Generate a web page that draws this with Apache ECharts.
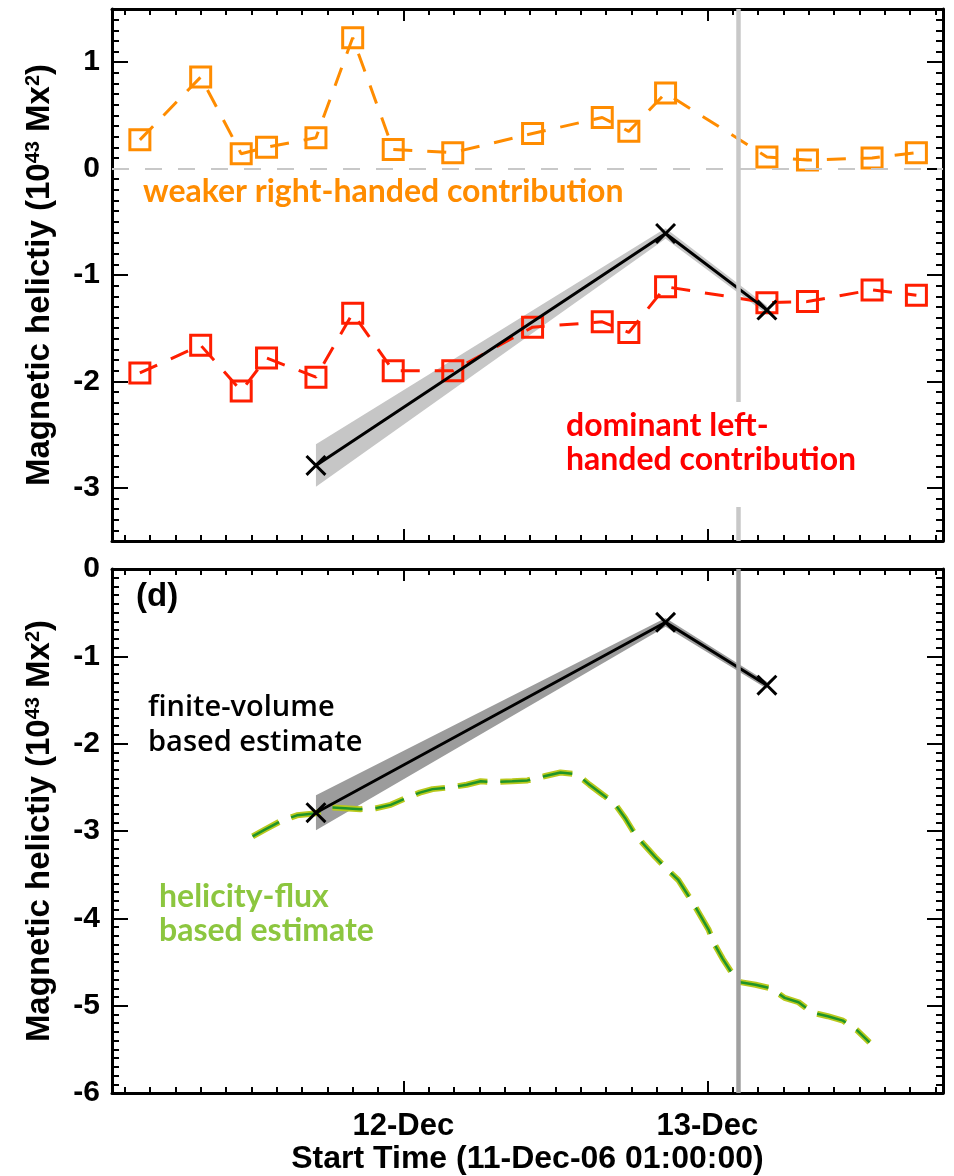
<!DOCTYPE html>
<html>
<head>
<meta charset="utf-8">
<script src="https://cdn.jsdelivr.net/npm/echarts@6/dist/echarts.min.js"></script>
<style>
  html, body { margin: 0; padding: 0; background: #fff; }
  #chart { width: 954px; height: 1176px; }
</style>
</head>
<body>
<div id="chart"></div>
<script>
// Time axis in hours since 11-Dec-2006 00:00 UT
const startHour = 1;          // 11-Dec-06 01:00:00
const endHour = 66.6;
const dayTickHours = [24, 48];
const dayTickLabels = ['12-Dec', '13-Dec'];
const flareHour = 50.4;

// Tick values of the helicity axes (10^43 Mx^2)
const topTicks = [-3, -2, -1, 0, 1];
const bottomTicks = [-6, -5, -4, -3, -2, -1, 0];

// Right- and left-handed contributions
const contribHours = [3.2, 8.0, 11.2, 13.2, 17.1, 20.0, 23.2, 27.9, 34.2, 39.7, 41.8, 44.7, 52.7, 55.9, 61.0, 64.5];
const rightHanded = [0.27, 0.86, 0.14, 0.20, 0.29, 1.23, 0.18, 0.15, 0.33, 0.48, 0.35, 0.71, 0.11, 0.08, 0.10, 0.15];
const leftHanded = [-1.92, -1.66, -2.09, -1.78, -1.96, -1.36, -1.90, -1.90, -1.49, -1.44, -1.54, -1.11, -1.26, -1.25, -1.14, -1.19];

// Finite-volume estimate and its uncertainty
const fvHours = [17.1, 44.7, 52.7];
const fvValues = [-2.79, -0.61, -1.33];
const fvErrors = [0.20, 0.05, 0.04];

// Helicity-flux based (accumulated) estimate
const fluxHours = [12.1, 13.1, 14.4, 15.6, 17.0, 18.2, 19.4, 20.6, 21.8, 23.0, 24.1, 25.3, 26.3, 27.7, 29.0,
  30.1, 31.2, 32.6, 33.8, 35.2, 36.4, 37.7, 38.7, 39.8, 40.7, 41.5, 42.3, 42.9, 43.9, 44.9,
  45.7, 46.9, 48.1, 48.5, 49.2, 50.0, 50.6, 51.8, 53.0, 54.1, 55.2, 56.3, 57.5, 58.7, 59.8, 60.8];
const fluxValues = [-3.06, -2.98, -2.88, -2.82, -2.80, -2.73, -2.74, -2.75, -2.74, -2.70, -2.63, -2.56, -2.52, -2.50, -2.47,
  -2.43, -2.44, -2.43, -2.42, -2.37, -2.33, -2.35, -2.47, -2.59, -2.69, -2.85, -3.04, -3.14, -3.30, -3.45,
  -3.56, -3.83, -4.13, -4.28, -4.46, -4.64, -4.73, -4.76, -4.80, -4.91, -4.96, -5.08, -5.12, -5.17, -5.28, -5.42];

const ORANGE = '#ff8c00';
const RED = '#ff1e00';
const FONT = 'Liberation Sans';
const CROSS = 'path://M0,2L2,0L10,8L18,0L20,2L12,10L20,18L18,20L10,12L2,20L0,18L8,10Z';

function steps(a, b, step) {
  const out = [];
  for (let v = a; v <= b + 1e-9; v += step) out.push(+v.toFixed(2));
  return out;
}

const tickLine = { color: '#000', width: 2 };
const labelFont = { fontFamily: FONT, fontSize: 30, fontWeight: 'bold', color: '#000' };

function xAxes(grid, withLabels) {
  const base = { gridIndex: grid, type: 'value', min: startHour, max: endHour,
    splitLine: { show: false }, axisLabel: { show: false } };
  const minor = steps(2, 66, 2);
  const major = Object.assign({}, base, {
    axisLine: { show: false, onZero: false },
    axisTick: { show: true, inside: true, length: 12, customValues: dayTickHours, lineStyle: tickLine }
  });
  const minorAx = Object.assign({}, base, {
    axisLine: { show: true, onZero: false, lineStyle: { color: '#000', width: 3 } },
    axisTick: { show: true, inside: true, length: 6, customValues: minor, lineStyle: tickLine }
  });
  const bottomMajor = Object.assign({}, major, { position: 'bottom' });
  if (withLabels) {
    bottomMajor.axisLabel = Object.assign({ show: true, customValues: dayTickHours, margin: 18,
      formatter: v => dayTickLabels[dayTickHours.indexOf(v)] }, labelFont, { fontSize: 31 });
    bottomMajor.name = 'Start Time (11-Dec-06 01:00:00)';
    bottomMajor.nameLocation = 'middle';
    bottomMajor.nameGap = 46;
    bottomMajor.nameTextStyle = Object.assign({}, labelFont, { fontSize: 32 });
  }
  return [
    Object.assign({}, minorAx, { position: 'bottom' }),
    bottomMajor,
    Object.assign({}, minorAx, { position: 'top' }),
    Object.assign({}, major, { position: 'top' })
  ];
}

function yAxes(grid, min, max, majors) {
  const base = { gridIndex: grid, type: 'value', min: min, max: max,
    splitLine: { show: false }, axisLabel: { show: false } };
  const minor = steps(min, max, 0.1);
  const minorAx = Object.assign({}, base, {
    axisLine: { show: true, onZero: false, lineStyle: { color: '#000', width: 3 } },
    axisTick: { show: true, inside: true, length: 7, customValues: minor, lineStyle: tickLine }
  });
  const major = Object.assign({}, base, {
    axisLine: { show: false, onZero: false },
    axisTick: { show: true, inside: true, length: 16, customValues: majors, lineStyle: tickLine }
  });
  const leftMajor = Object.assign({}, major, {
    position: 'left',
    axisLabel: Object.assign({ show: true, customValues: majors, margin: 12 }, labelFont),
    name: 'Magnetic helictiy (10{sup|43} Mx{sup|2})',
    nameLocation: 'middle',
    nameRotate: 90,
    nameGap: 56,
    nameTextStyle: {
      fontFamily: FONT, fontSize: 33, fontWeight: 'bold', color: '#000',
      rich: { sup: { fontFamily: FONT, fontSize: 20, fontWeight: 'bold', color: '#000', verticalAlign: 'top' } }
    }
  });
  return [
    Object.assign({}, minorAx, { position: 'left' }),
    leftMajor,
    Object.assign({}, minorAx, { position: 'right' }),
    Object.assign({}, major, { position: 'right' })
  ];
}

function bandSeries(axis, color, refLines) {
  return {
    type: 'custom', xAxisIndex: axis, yAxisIndex: axis, z: 1, silent: true,
    data: fvHours.map((h, i) => [h, fvValues[i] - fvErrors[i], fvValues[i] + fvErrors[i]]),
    encode: { x: 0, y: [1, 2] },
    renderItem: function (params, api) {
      if (params.dataIndex !== 0) return null;
      const upper = fvHours.map((h, i) => api.coord([h, fvValues[i] + fvErrors[i]]));
      const lower = fvHours.map((h, i) => api.coord([h, fvValues[i] - fvErrors[i]])).reverse();
      return { type: 'polygon', shape: { points: upper.concat(lower) }, style: { fill: color } };
    },
    markLine: { silent: true, symbol: 'none', label: { show: false }, animation: false, data: refLines }
  };
}

function fvLine(axis) {
  return {
    type: 'line', xAxisIndex: axis, yAxisIndex: axis, z: 4,
    data: fvHours.map((h, i) => [h, fvValues[i]]),
    lineStyle: { color: '#000', width: 3 },
    symbol: CROSS, symbolSize: 21,
    itemStyle: { color: '#000' }
  };
}

function contribLine(values, color) {
  return {
    type: 'line', xAxisIndex: 0, yAxisIndex: 0, z: 3,
    data: contribHours.map((h, i) => [h, values[i]]),
    lineStyle: { color: color, width: 3, type: [19, 15] },
    symbol: 'rect', symbolSize: 20,
    itemStyle: { color: 'rgba(0,0,0,0)', borderColor: color, borderWidth: 3 }
  };
}

const fluxData = fluxHours.map((h, i) => [h, fluxValues[i]]);

const option = {
  backgroundColor: '#fff',
  animation: false,
  textStyle: { fontFamily: FONT },
  grid: [
    { left: 112, top: 9, width: 831, height: 532 },
    { left: 112, top: 569, width: 831, height: 527 }
  ],
  xAxis: xAxes(0, false).concat(xAxes(1, true)),
  yAxis: yAxes(0, -3.5, 1.5, topTicks).concat(yAxes(1, -6, 0, bottomTicks)),
  series: [
    bandSeries(0, '#c6c6c6', [
      { xAxis: flareHour, lineStyle: { color: '#c8c8c8', width: 4.5, type: 'solid' } },
      { yAxis: 0, lineStyle: { color: '#c8c8c8', width: 2, type: [17, 16] } }
    ]),
    contribLine(rightHanded, ORANGE),
    contribLine(leftHanded, RED),
    fvLine(0),
    bandSeries(4, '#9c9c9c', [
      { xAxis: flareHour, lineStyle: { color: '#a0a0a0', width: 4.5, type: 'solid' } }
    ]),
    {
      type: 'line', xAxisIndex: 4, yAxisIndex: 4, z: 3, symbol: 'none',
      data: fluxData,
      lineStyle: { color: '#b9c81c', width: 6, type: [30, 13] }
    },
    {
      type: 'line', xAxisIndex: 4, yAxisIndex: 4, z: 3, symbol: 'none',
      data: fluxData,
      lineStyle: { color: '#1f9428', width: 2.5, type: [30, 13] }
    },
    fvLine(4)
  ],
  graphic: [
    { type: 'rect', z: 100, shape: { x: 560, y: 402, width: 310, height: 105 }, style: { fill: '#fff' } },
    { type: 'text', z: 101, x: 143, y: 192,
      style: { text: 'weaker right-handed contribution', fill: ORANGE, fontFamily: 'Lato', fontWeight: 'bold',
        fontSize: 32, align: 'left', verticalAlign: 'middle' } },
    { type: 'text', z: 101, x: 566, y: 443,
      style: { text: 'dominant left-\nhanded contribution', fill: '#ff0000', fontFamily: 'Lato', fontWeight: 'bold',
        fontSize: 32, lineHeight: 34, align: 'left', verticalAlign: 'middle' } },
    { type: 'text', z: 101, x: 136, y: 597,
      style: { text: '(d)', fill: '#000', fontFamily: FONT, fontWeight: 'bold', fontSize: 33,
        align: 'left', verticalAlign: 'middle' } },
    { type: 'text', z: 101, x: 148, y: 725,
      style: { text: 'finite-volume\nbased estimate', fill: '#000', fontFamily: 'Open Sans', fontWeight: 600,
        fontSize: 29, lineHeight: 35, align: 'left', verticalAlign: 'middle' } },
    { type: 'text', z: 101, x: 159, y: 914,
      style: { text: 'helicity-flux\nbased estimate', fill: '#8cc63f', fontFamily: 'Lato', fontWeight: 'bold',
        fontSize: 32, lineHeight: 34, align: 'left', verticalAlign: 'middle' } }
  ]
};

echarts.init(document.getElementById('chart'), null, { renderer: 'canvas' }).setOption(option);
</script>
</body>
</html>
